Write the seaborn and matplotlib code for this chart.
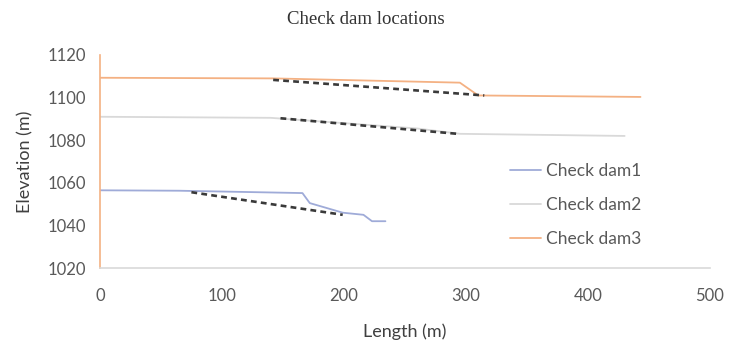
import matplotlib
matplotlib.use("Agg")
import matplotlib.pyplot as plt
import seaborn as sns
import pandas as pd

# profiles (length m, elevation m)
dam1_x = [0, 65, 166, 172, 199, 216, 223, 234]
dam1_y = [1056.5, 1056.3, 1055.2, 1050.5, 1046, 1045, 1042, 1042]

dam2_x = [0, 140, 200, 260, 295, 430]
dam2_y = [1091, 1090.5, 1088, 1085.5, 1083, 1082]

dam3_x = [0, 142, 295, 310, 443]
dam3_y = [1109.3, 1109, 1107, 1101, 1100.3]

# dashed design slopes behind each check dam
slope1_x = [75, 199]
slope1_y = [1055.6, 1045]
slope2_x = [148, 293]
slope2_y = [1090.3, 1083]
slope3_x = [142, 315]
slope3_y = [1108.3, 1101]

names = ["Check dam1", "Check dam2", "Check dam3"]
colors = ["#9fabd8", "#d9d9d9", "#f4b183"]

sns.set_style("white")
plt.rcParams["font.family"] = ["Lato", "DejaVu Sans"]

profiles = pd.concat([
    pd.DataFrame({"Length": dam1_x, "Elevation": dam1_y, "dam": names[0]}),
    pd.DataFrame({"Length": dam2_x, "Elevation": dam2_y, "dam": names[1]}),
    pd.DataFrame({"Length": dam3_x, "Elevation": dam3_y, "dam": names[2]}),
])

fig = plt.figure(figsize=(7.29, 3.5), dpi=100)
ax = fig.add_axes([0.137, 0.234, 0.837, 0.609])

sns.lineplot(data=profiles, x="Length", y="Elevation", hue="dam",
             palette=dict(zip(names, colors)), sort=False, estimator=None,
             linewidth=1.3, ax=ax)
handles, labels = ax.get_legend_handles_labels()
ax.get_legend().remove()

for sx, sy in [(slope1_x, slope1_y), (slope2_x, slope2_y), (slope3_x, slope3_y)]:
    sns.lineplot(x=sx, y=sy, color="#3a3a3a", linewidth=1.9, ax=ax,
                 linestyle=(0, (2.2, 1.6)), legend=False)

ax.set_xlim(0, 500)
ax.set_ylim(1020, 1120)
ax.set_xticks(range(0, 501, 100))
ax.set_yticks(range(1020, 1121, 20))
ax.tick_params(axis="both", labelsize=12, labelcolor="#595959")
ax.tick_params(axis="y", length=4, width=0.8, direction="out", color="#d0d0d0", pad=6)
ax.tick_params(axis="x", length=0, pad=14)

for s in ["top", "right"]:
    ax.spines[s].set_visible(False)
ax.spines["bottom"].set_color("#d9d9d9")
ax.spines["bottom"].set_linewidth(1.2)
ax.spines["left"].set_color("#f4b183")
ax.spines["left"].set_linewidth(1.2)

ax.set_xlabel("Length (m)", fontsize=13, color="#404040", labelpad=14)
ax.set_ylabel("Elevation (m)", fontsize=13, color="#404040", labelpad=10)

fig.text(0.502, 0.943, "Check dam locations", ha="center", va="center",
         fontsize=13.5, family=["Liberation Serif"], color="#333333")

fig.legend(handles, labels, loc="center left", bbox_to_anchor=(0.69, 0.414),
           bbox_transform=fig.transFigure, borderaxespad=0,
           frameon=False, fontsize=12.5, labelspacing=1.05, handlelength=1.8,
           handletextpad=0.3, labelcolor="#595959")

fig.savefig("out.png", dpi=100, facecolor="white")
